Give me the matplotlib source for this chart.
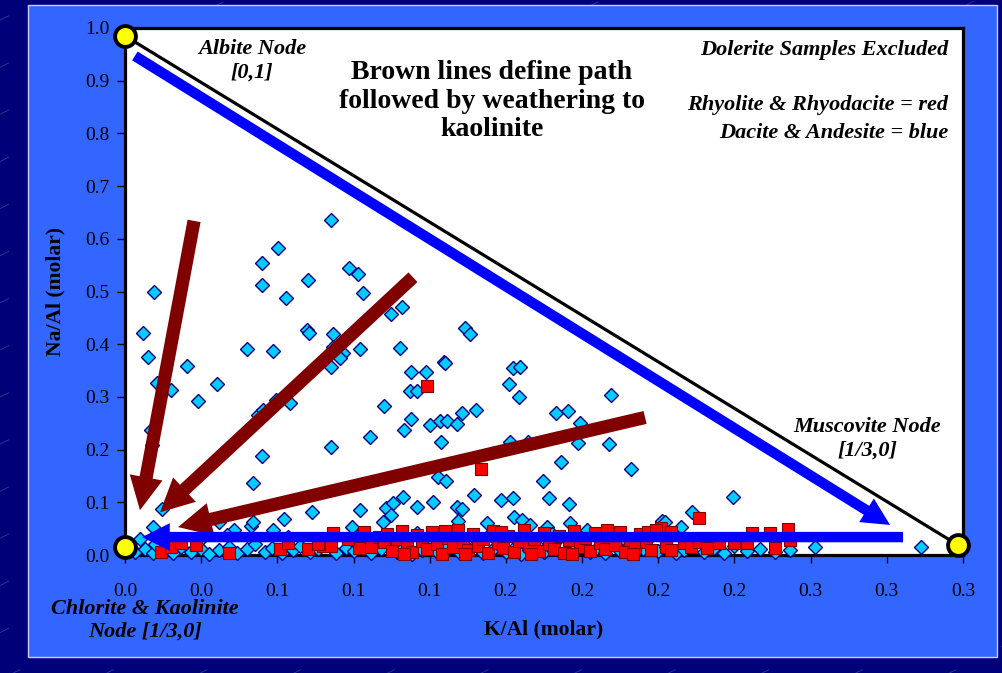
import matplotlib.pyplot as plt
import numpy as np
from matplotlib.patches import Rectangle, FancyArrowPatch, ArrowStyle

plt.rcParams['font.family'] = ['Liberation Serif', 'DejaVu Serif']

# Dacite & Andesite samples (blue diamonds)
blue_x = [0.0811, 0.0603, 0.0540, 0.0540, 0.0721, 0.0114, 0.0634, 0.0882, 0.0918, 0.0937,
          0.1048, 0.1091, 0.0071, 0.0717, 0.0725, 0.0819, 0.0091, 0.0480, 0.0583, 0.0819,
          0.0858, 0.0847, 0.0925, 0.1083, 0.0244, 0.0126, 0.0181, 0.0362, 0.0287, 0.0811,
          0.1126, 0.1185, 0.1256, 0.1122, 0.1150, 0.0595, 0.0650, 0.0524, 0.0543, 0.1020,
          0.1126, 0.1201, 0.1240, 0.1268, 0.1099, 0.0965, 0.1244, 0.0811, 0.0102, 0.0106,
          0.1339, 0.1359, 0.1260, 0.1528, 0.1556, 0.1512, 0.1552, 0.1914, 0.1308, 0.1327,
          0.1382, 0.1697, 0.1745, 0.1792, 0.1784, 0.1906, 0.1516, 0.1587, 0.1717, 0.1993,
          0.0540, 0.0504, 0.0146, 0.0110, 0.0370, 0.0429, 0.0496, 0.0504, 0.0626, 0.0736,
          0.0926, 0.1028, 0.1055, 0.1048, 0.1016, 0.0894, 0.0583, 0.1233, 0.1264, 0.1646,
          0.1095, 0.1150, 0.1213, 0.1308, 0.1327, 0.1375, 0.1481, 0.1528, 0.1670, 0.1749,
          0.1311, 0.1532, 0.1564, 0.1426, 0.1595, 0.1753, 0.2115, 0.1662, 0.1820, 0.2394,
          0.2233, 0.2127, 0.2190, 0.2717, 0.3135,
          0.004, 0.008, 0.011, 0.015, 0.019, 0.022, 0.026, 0.030, 0.033, 0.037,
          0.041, 0.044, 0.048, 0.051, 0.055, 0.058, 0.062, 0.066, 0.069, 0.073,
          0.076, 0.080, 0.083, 0.087, 0.090, 0.094, 0.097, 0.101, 0.104, 0.107,
          0.110, 0.113, 0.117, 0.120, 0.123, 0.126, 0.129, 0.132, 0.135, 0.138,
          0.141, 0.144, 0.147, 0.150, 0.153, 0.156, 0.159, 0.162, 0.165, 0.168,
          0.171, 0.174, 0.177, 0.180, 0.183, 0.186, 0.189, 0.192, 0.195, 0.198,
          0.201, 0.204, 0.207, 0.210, 0.213, 0.217, 0.220, 0.224, 0.228, 0.232,
          0.236, 0.240, 0.245, 0.250, 0.256, 0.262, 0.030, 0.018, 0.064, 0.092,
          0.115, 0.143, 0.168, 0.196, 0.230, 0.040, 0.012, 0.006]
blue_y = [0.636, 0.583, 0.555, 0.513, 0.521, 0.500, 0.487, 0.544, 0.534, 0.498,
          0.458, 0.470, 0.422, 0.426, 0.422, 0.420, 0.375, 0.390, 0.388, 0.394,
          0.383, 0.373, 0.390, 0.392, 0.358, 0.326, 0.314, 0.324, 0.292, 0.356,
          0.348, 0.347, 0.366, 0.311, 0.311, 0.295, 0.288, 0.265, 0.275, 0.282,
          0.259, 0.246, 0.254, 0.254, 0.237, 0.223, 0.214, 0.205, 0.237, 0.208,
          0.430, 0.420, 0.364, 0.354, 0.356, 0.324, 0.299, 0.303, 0.248, 0.269,
          0.275, 0.269, 0.273, 0.250, 0.212, 0.210, 0.214, 0.214, 0.176, 0.163,
          0.188, 0.136, 0.087, 0.053, 0.062, 0.047, 0.055, 0.062, 0.068, 0.081,
          0.085, 0.089, 0.098, 0.076, 0.062, 0.053, 0.047, 0.148, 0.140, 0.140,
          0.110, 0.091, 0.100, 0.091, 0.087, 0.114, 0.104, 0.108, 0.108, 0.097,
          0.064, 0.072, 0.066, 0.061, 0.057, 0.061, 0.064, 0.053, 0.047, 0.110,
          0.081, 0.062, 0.053, 0.015, 0.015,
          0.005, 0.012, 0.003, 0.010, 0.004, 0.015, 0.006, 0.012, 0.002, 0.009,
          0.016, 0.004, 0.011, 0.020, 0.006, 0.013, 0.003, 0.010, 0.018, 0.005,
          0.012, 0.024, 0.004, 0.014, 0.007, 0.020, 0.003, 0.011, 0.028, 0.006,
          0.016, 0.002, 0.009, 0.022, 0.005, 0.013, 0.030, 0.004, 0.011, 0.019,
          0.003, 0.008, 0.025, 0.006, 0.014, 0.002, 0.010, 0.021, 0.005, 0.012,
          0.032, 0.004, 0.009, 0.018, 0.006, 0.013, 0.003, 0.024, 0.008, 0.015,
          0.004, 0.011, 0.036, 0.007, 0.016, 0.003, 0.010, 0.022, 0.006, 0.013,
          0.004, 0.018, 0.008, 0.012, 0.005, 0.009, 0.030, 0.028, 0.034, 0.038,
          0.041, 0.036, 0.040, 0.032, 0.030, 0.038, 0.020, 0.030]

# Rhyolite & Rhyodacite samples (red squares)
red_x = [0.014, 0.018, 0.022, 0.028, 0.041, 0.061, 0.072, 0.078, 0.081, 0.082,
         0.092, 0.094, 0.097, 0.100, 0.102, 0.105, 0.107, 0.109, 0.111, 0.113,
         0.115, 0.117, 0.119, 0.121, 0.123, 0.125, 0.127, 0.129, 0.131, 0.133,
         0.135, 0.137, 0.139, 0.141, 0.143, 0.145, 0.147, 0.149, 0.151, 0.153,
         0.155, 0.157, 0.159, 0.161, 0.163, 0.165, 0.167, 0.169, 0.171, 0.173,
         0.175, 0.177, 0.179, 0.181, 0.183, 0.185, 0.187, 0.189, 0.191, 0.193,
         0.195, 0.197, 0.199, 0.201, 0.203, 0.205, 0.207, 0.211, 0.213, 0.215,
         0.215, 0.220, 0.223, 0.226, 0.226, 0.229, 0.234, 0.240, 0.245, 0.247,
         0.254, 0.256, 0.261, 0.262, 0.119, 0.140, 0.088, 0.103, 0.110, 0.126,
         0.134, 0.148, 0.160, 0.176, 0.190, 0.200, 0.206, 0.064, 0.076, 0.209]
red_y = [0.005, 0.016, 0.023, 0.019, 0.003, 0.011, 0.011, 0.017, 0.017, 0.042,
         0.013, 0.044, 0.015, 0.035, 0.024, 0.008, 0.030, 0.046, 0.018, 0.005,
         0.038, 0.026, 0.012, 0.043, 0.020, 0.002, 0.033, 0.015, 0.048, 0.025,
         0.009, 0.040, 0.018, 0.030, 0.004, 0.045, 0.022, 0.013, 0.036, 0.006,
         0.027, 0.047, 0.017, 0.031, 0.008, 0.041, 0.021, 0.012, 0.037, 0.003,
         0.028, 0.046, 0.016, 0.033, 0.007, 0.042, 0.022, 0.011, 0.035, 0.019,
         0.044, 0.006, 0.029, 0.015, 0.039, 0.024, 0.010, 0.051, 0.015, 0.009,
         0.044, 0.023, 0.015, 0.070, 0.025, 0.013, 0.023, 0.023, 0.023, 0.042,
         0.042, 0.013, 0.049, 0.028, 0.320, 0.163, 0.030, 0.040, 0.002, 0.045,
         0.001, 0.043, 0.001, 0.002, 0.048, 0.002, 0.043, 0.023, 0.020, 0.047]

x_ticks = [0.0, 0.03, 0.06, 0.09, 0.12, 0.15, 0.18, 0.21, 0.24, 0.27, 0.30, 0.33]
x_tick_labels = ['0.0', '0.0', '0.1', '0.1', '0.1', '0.2', '0.2', '0.2', '0.2', '0.3', '0.3', '0.3']
y_ticks = [0.0, 0.1, 0.2, 0.3, 0.4, 0.5, 0.6, 0.7, 0.8, 0.9, 1.0]

# triangle corners (albite, chlorite/kaolinite, muscovite)
node_x = [0.0, 0.0, 0.328]
node_y = [0.985, 0.015, 0.019]

# weathering paths: (tail, tip)
brown_paths = [((0.0272, 0.634), (0.0059, 0.085)),
               ((0.1134, 0.527), (0.0138, 0.081)),
               ((0.2048, 0.261), (0.0209, 0.053))]
blue_paths = [((0.0039, 0.947), (0.3013, 0.057)),
              ((0.3064, 0.034), (0.0067, 0.034))]

W, H = 1003, 673
fig = plt.figure(figsize=(W / 100, H / 100), dpi=100, facecolor='#000078')

# faint diagonal streaks on the slide background
for off in np.arange(-1.2, 1.2, 0.07):
    fig.add_artist(plt.Line2D([0, 1], [off, off + 0.75], transform=fig.transFigure,
                              color='#8fa0e0', lw=0.6, alpha=0.35,
                              linestyle=(0, (12, 60)), zorder=0))

fig.add_artist(Rectangle((28 / W, 1 - 657 / H), (997 - 28) / W, (657 - 5) / H,
                         transform=fig.transFigure, facecolor='#3366FF',
                         edgecolor='#c8d0ff', lw=1, zorder=1))

ax = fig.add_axes([125 / W, 1 - 555 / H, (963 - 125) / W, (555 - 28) / H])
ax.set_zorder(2)
ax.set_facecolor('white')
ax.set_xlim(0, 0.33)
ax.set_ylim(0, 1.0)
for s in ax.spines.values():
    s.set_linewidth(2.3)
    s.set_color('black')

ax.set_xticks(x_ticks)
ax.set_xticklabels(x_tick_labels)
ax.set_yticks(y_ticks)
ax.set_yticklabels(['%.1f' % v for v in y_ticks])
ax.tick_params(axis='both', direction='out', length=6, width=1, labelsize=14,
               colors='black', pad=5)
ax.tick_params(axis='x', pad=14)

ax.set_xlabel('K/Al (molar)', fontsize=15.5, fontweight='bold', labelpad=14)
ax.set_ylabel('Na/Al (molar)', fontsize=15.5, fontweight='bold', labelpad=14)

# triangle edge from albite node to muscovite node
ax.plot([node_x[0], node_x[2]], [node_y[0], node_y[2]], color='black', lw=2.3,
        zorder=2, clip_on=False)

ax.plot(blue_x, blue_y, 'D', ms=7.3, mfc='#00CCFF', mec='#000080', mew=1.0,
        zorder=3, clip_on=False)
ax.plot(red_x, red_y, 's', ms=9, mfc='#FF0000', mec='#800000', mew=0.8,
        zorder=4, clip_on=False)

for (tail, tip) in brown_paths:
    ax.add_patch(FancyArrowPatch(tail, tip, mutation_scale=1, shrinkA=0, shrinkB=0,
                                 arrowstyle=ArrowStyle.Simple(head_length=24, head_width=24,
                                                              tail_width=9.5),
                                 color='#800000', lw=0, zorder=5))
for (tail, tip) in blue_paths:
    ax.add_patch(FancyArrowPatch(tail, tip, mutation_scale=1, shrinkA=0, shrinkB=0,
                                 arrowstyle=ArrowStyle.Simple(head_length=20, head_width=20,
                                                              tail_width=7.5),
                                 color='#0000FF', lw=0, zorder=5))

ax.plot(node_x, node_y, 'o', ms=15, mfc='#FFFF00', mec='black', mew=2.8,
        zorder=6, clip_on=False)

def ftext(px, py, s, **kw):
    fig.text(px / W, 1 - py / H, s, **kw)

note = dict(fontsize=16, fontweight='bold', fontstyle='italic', color='black', zorder=10)
ftext(252, 61, 'Albite Node\n[0,1]', ha='center', va='center', linespacing=1.25, **note)
ftext(867, 439, 'Muscovite Node\n[1/3,0]', ha='center', va='center', linespacing=1.25, **note)
ftext(145, 620, 'Chlorite & Kaolinite\nNode [1/3,0]', ha='center', va='center',
      linespacing=1.2, **note)
ftext(948, 50, 'Dolerite Samples Excluded', ha='right', va='center', **note)
ftext(948, 105, 'Rhyolite & Rhyodacite = red', ha='right', va='center', **note)
ftext(948, 133, 'Dacite & Andesite = blue', ha='right', va='center', **note)
ftext(492, 101, 'Brown lines define path\nfollowed by weathering to\nkaolinite',
      ha='center', va='center', fontsize=20, fontweight='bold', linespacing=1.2, zorder=10)

fig.savefig('out.png', dpi=100, facecolor=fig.get_facecolor())
